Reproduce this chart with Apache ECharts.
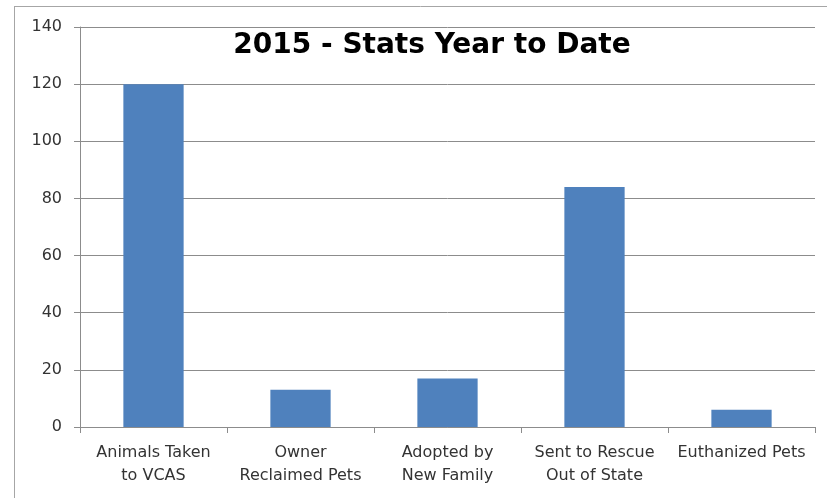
<!DOCTYPE html>
<html>
<head>
<meta charset="utf-8">
<script src="https://cdn.jsdelivr.net/npm/echarts@6/dist/echarts.min.js"></script>
<style>
html,body{margin:0;padding:0;background:#fff;}
#chart{width:827px;height:498px;}
</style>
</head>
<body>
<div id="chart"></div>
<script>
const titleText = "2015 - Stats Year to Date";
const categories = ["Animals Taken\nto VCAS", "Owner\nReclaimed Pets", "Adopted by\nNew Family", "Sent to Rescue\nOut of State", "Euthanized Pets"];
const values = [120, 13, 17, 84, 6];
const yMin = 0, yMax = 140, yStep = 20;

const chart = echarts.init(document.getElementById('chart'), null, {renderer: 'canvas'});
const font = "'DejaVu Sans', sans-serif";
chart.setOption({
  animation: false,
  backgroundColor: '#ffffff',
  title: {
    text: titleText,
    left: 427, top: 27, textAlign: 'center',
    textStyle: {fontFamily: font, fontWeight: 'bold', fontSize: 28, color: '#000'}
  },
  graphic: [
    {type: 'line', shape: {x1: 14, y1: 6.5, x2: 827, y2: 6.5}, style: {stroke: '#a6a6a6', lineWidth: 1}},
    {type: 'line', shape: {x1: 14.5, y1: 6, x2: 14.5, y2: 498}, style: {stroke: '#a6a6a6', lineWidth: 1}}
  ],
  grid: {left: 80, right: 12, top: 27, bottom: 71, containLabel: false},
  xAxis: {
    type: 'category',
    data: categories,
    boundaryGap: true,
    axisLine: {show: true, lineStyle: {color: '#8c8c8c', width: 1}},
    axisTick: {show: true, length: 6, alignWithLabel: false, lineStyle: {color: '#8c8c8c'}},
    axisLabel: {interval: 0, margin: 14, fontFamily: font, fontSize: 16, lineHeight: 23, color: '#333'}
  },
  yAxis: {
    type: 'value',
    min: yMin, max: yMax, interval: yStep,
    axisLine: {show: true, lineStyle: {color: '#8c8c8c', width: 1}},
    axisTick: {show: true, length: 6, lineStyle: {color: '#8c8c8c'}},
    axisLabel: {margin: 18, fontFamily: font, fontSize: 16, color: '#333'},
    splitLine: {show: true, lineStyle: {color: '#8c8c8c', width: 1}}
  },
  series: [{
    type: 'bar',
    data: values,
    barWidth: '41%',
    itemStyle: {color: '#4F81BD'}
  }]
});
</script>
</body>
</html>
